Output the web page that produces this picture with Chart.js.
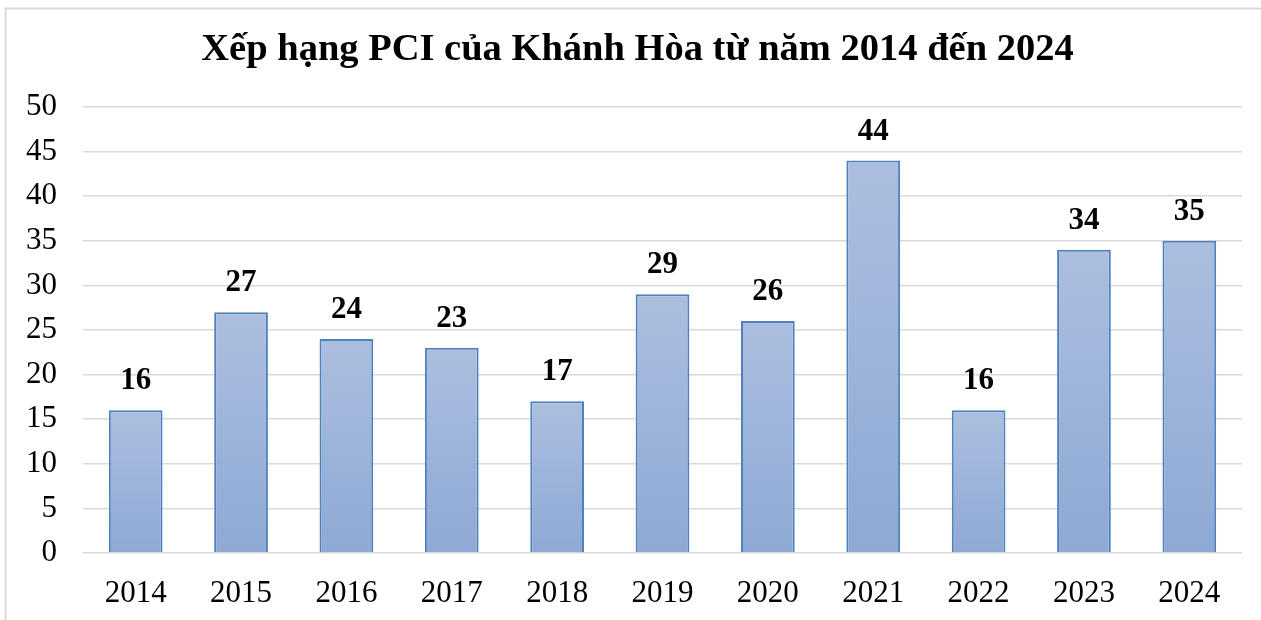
<!DOCTYPE html>
<html>
<head>
<meta charset="utf-8">
<script src="https://cdn.jsdelivr.net/npm/chart.js@4/dist/chart.umd.min.js"></script>
<style>
html,body{margin:0;padding:0;background:#fff;}
#wrap{width:1261px;height:620px;position:relative;}
</style>
</head>
<body>
<div id="wrap"><canvas id="c" width="1261" height="620"></canvas></div>
<script>
const categories = ["2014","2015","2016","2017","2018","2019","2020","2021","2022","2023","2024"];
const ranks = [16,27,24,23,17,29,26,44,16,34,35];
const yTicks = [0,5,10,15,20,25,30,35,40,45,50];
const titleText = "Xếp hạng PCI của Khánh Hòa từ năm 2014 đến 2024";

const FONT = "'Liberation Serif','Times New Roman',serif";

const frame = {
  id: 'frame',
  beforeDraw(chart) {
    const ctx = chart.ctx;
    ctx.save();
    ctx.fillStyle = '#fff';
    ctx.fillRect(0, 0, chart.width, chart.height);
    ctx.strokeStyle = '#d9d9d9';
    ctx.lineWidth = 2;
    ctx.beginPath();
    ctx.moveTo(5.5, chart.height);
    ctx.lineTo(5.5, 8.5);
    ctx.lineTo(chart.width, 8.5);
    ctx.stroke();
    ctx.restore();
  },
  afterDraw(chart) {
    const ctx = chart.ctx;
    ctx.save();
    ctx.font = "bold 38.5px " + FONT;
    ctx.fillStyle = '#000';
    ctx.textAlign = 'center';
    ctx.textBaseline = 'middle';
    ctx.fillText(titleText, 637.5, 50);
    ctx.restore();
  }
};

const valueLabels = {
  id: 'valueLabels',
  afterDatasetsDraw(chart) {
    const ctx = chart.ctx;
    const meta = chart.getDatasetMeta(0);
    ctx.save();
    ctx.font = "bold 31px " + FONT;
    ctx.fillStyle = '#000';
    ctx.textAlign = 'center';
    ctx.textBaseline = 'middle';
    meta.data.forEach((el, i) => {
      ctx.fillText(String(chart.data.datasets[0].data[i]), el.x, el.y - 29);
    });
    ctx.restore();
  }
};

function barGradient(context) {
  const chart = context.chart;
  const area = chart.chartArea;
  if (!area || context.type !== 'data') return '#9fb4da';
  const ys = chart.scales.y;
  const top = ys.getPixelForValue(context.raw);
  const bottom = ys.getPixelForValue(0);
  const g = chart.ctx.createLinearGradient(0, top, 0, bottom);
  g.addColorStop(0, '#abbedf');
  g.addColorStop(1, '#8ea9d5');
  return g;
}

new Chart(document.getElementById('c'), {
  type: 'bar',
  data: {
    labels: categories,
    datasets: [{
      data: ranks,
      backgroundColor: barGradient,
      borderColor: '#4f81bd',
      borderWidth: 2,
      categoryPercentage: 1.0,
      barPercentage: 0.51
    }]
  },
  options: {
    responsive: false,
    animation: false,
    devicePixelRatio: 1,
    layout: { padding: { left: 0, right: 19, top: 107, bottom: 0 } },
    plugins: {
      legend: { display: false },
      tooltip: { enabled: false },
      title: { display: false }
    },
    scales: {
      x: {
        grid: { display: false, drawTicks: false },
        border: { display: false },
        ticks: { color: '#000', font: { family: FONT, size: 31 }, padding: 22 },
        afterFit(scale) { scale.height = 67; }
      },
      y: {
        min: 0, max: 50,
        afterBuildTicks(scale) { scale.ticks = yTicks.map(v => ({ value: v })); },
        grid: { color: '#d9d9d9', lineWidth: 1.5, drawTicks: false },
        border: { display: false },
        ticks: { color: '#000', font: { family: FONT, size: 31 }, padding: 26 },
        afterFit(scale) { scale.width = 83; }
      }
    }
  },
  plugins: [frame, valueLabels]
});
</script>
</body>
</html>
